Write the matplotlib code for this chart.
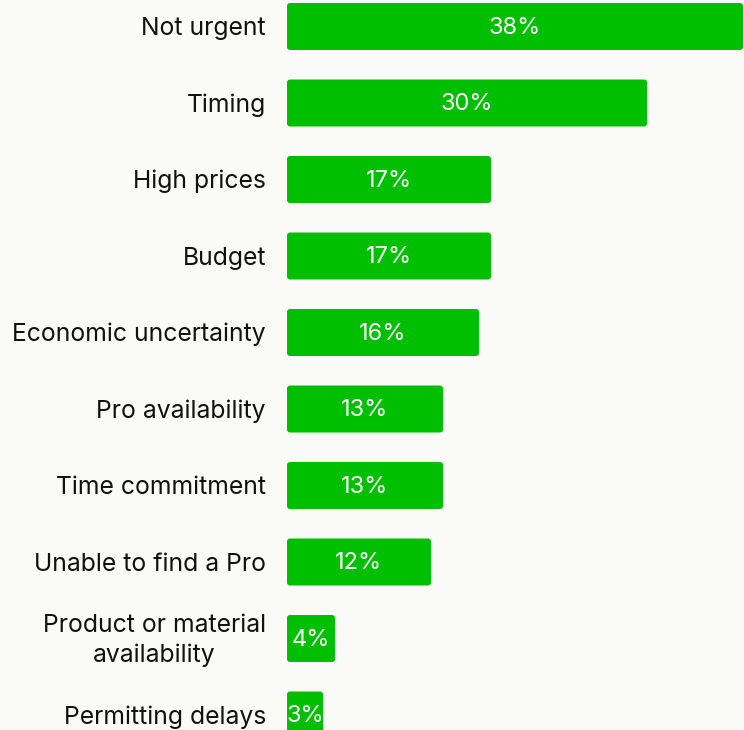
import matplotlib
matplotlib.use("Agg")
import matplotlib.pyplot as plt
from matplotlib.patches import FancyBboxPatch

categories = ["Not urgent", "Timing", "High prices", "Budget", "Economic uncertainty",
              "Pro availability", "Time commitment", "Unable to find a Pro",
              "Product or material\navailability", "Permitting delays"]
values = [38, 30, 17, 17, 16, 13, 13, 12, 4, 3]
value_labels = [f"{v}%" for v in values]

plt.rcParams['font.family'] = ['Inter', 'DejaVu Sans']

bg = "#FAFAF8"
green = "#00BF00"
W, H = 744, 730
fig = plt.figure(figsize=(W / 100, H / 100), dpi=100, facecolor=bg)
ax = fig.add_axes([287 / W, 0, 456 / W, 1])
ax.set_facecolor(bg)

ypos = list(range(len(categories)))
bars = ax.barh(ypos, values, height=0.614, color=green, edgecolor="none")
ax.set_xlim(0, 38)
top = -26.5 / 76.5
bottom = (730 - 26.5) / 76.5
ax.set_ylim(bottom, top)

# replace plain rectangles with slightly rounded ones from the same geometry
px_x = 456 / 38.0
px_y = 76.5
for r in bars.patches:
    x, y0, w, h = r.get_x(), r.get_y(), r.get_width(), r.get_height()
    r.set_visible(False)
    fp = FancyBboxPatch((x, y0), w, h,
                        boxstyle=f"round,pad=0,rounding_size={3.0 / px_x}",
                        mutation_aspect=px_x / px_y,
                        facecolor=green, edgecolor="none")
    ax.add_patch(fp)

for s in ax.spines.values():
    s.set_visible(False)
ax.set_xticks([])
ax.set_yticks([])

for y, v, lab, cat in zip(ypos, values, value_labels, categories):
    ax.annotate(lab, xy=(v / 2, y), xytext=(0, -1), textcoords="offset pixels",
                ha="center", va="center", color="white", fontsize=17)
    ax.annotate(cat, xy=(0, y), xytext=(-21, -2), textcoords="offset pixels",
                ha="right", va="center", multialignment="center",
                fontsize=17.8, color="#111111", linespacing=1.3)

fig.savefig("out.png", dpi=100, facecolor=bg)
